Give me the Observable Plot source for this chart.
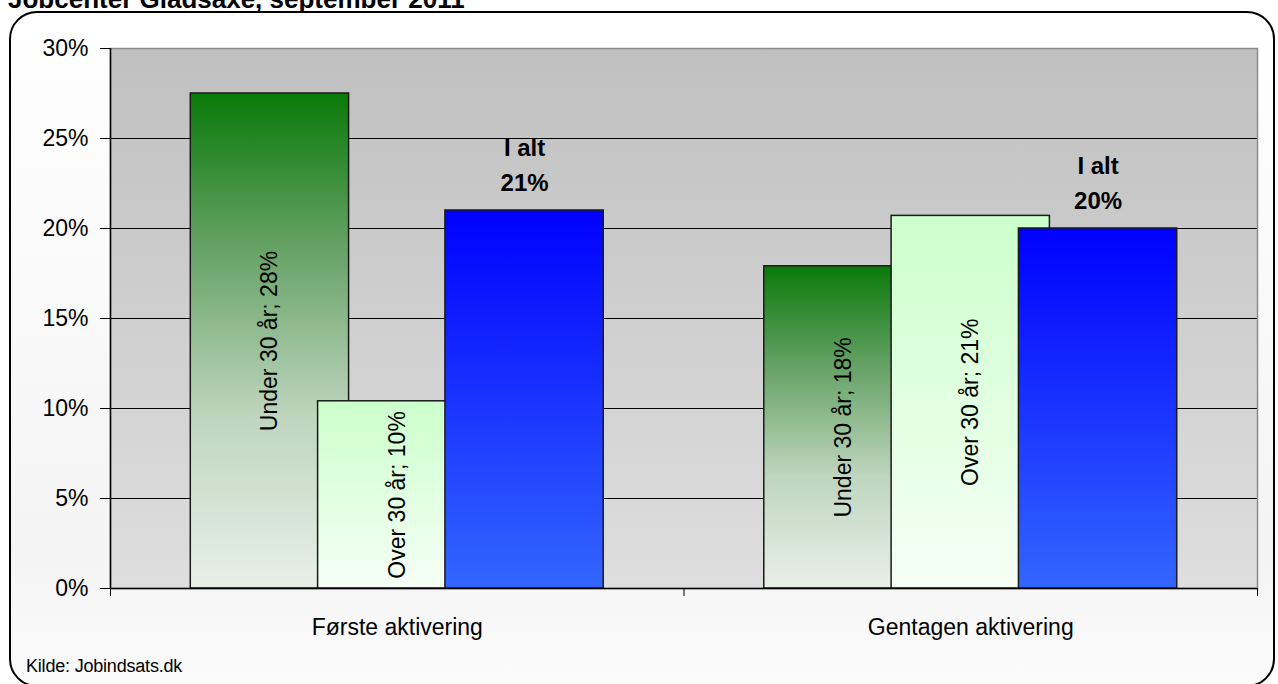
<!DOCTYPE html>
<html><head><meta charset="utf-8">
<script src="https://cdn.jsdelivr.net/npm/d3@7"></script>
<script src="https://cdn.jsdelivr.net/npm/@observablehq/plot@0.6"></script>
<style>
body{margin:0;background:#fff;}
#wrap{position:relative;width:1278px;height:684px;overflow:hidden;font-family:"Liberation Sans",Arial,sans-serif;}
#panel{position:absolute;left:9px;top:11px;width:1262px;height:672px;border:2px solid #000;border-radius:28px;background:linear-gradient(#ffffff 0%,#f4f4f4 80%,#fbfbfb 100%);}
#title{position:absolute;left:8px;top:-14px;font-weight:bold;font-size:26px;line-height:26px;white-space:nowrap;color:#000;}
#caption{position:absolute;left:26px;top:657px;font-size:18px;line-height:18px;letter-spacing:-0.2px;white-space:nowrap;color:#000;}
#chart{position:absolute;left:0;top:0;}
</style></head>
<body>
<div id="wrap">
  <div id="panel"></div>
  <div id="title">Jobcenter Gladsaxe, september 2011</div>
  <div id="chart"></div>
  <div id="caption">Kilde: Jobindsats.dk</div>
</div>
<script>
const categories = ["Første aktivering", "Gentagen aktivering"];
const series = ["Under 30 år", "Over 30 år", "I alt"];
const under30 = [27.5, 17.9];
const over30 = [10.4, 20.7];
const total = [21.0, 20.0];
const yTicks = [0, 5, 10, 15, 20, 25, 30];

const valuesBySeries = [under30, over30, total];
const rows = [];
series.forEach((s, k) => categories.forEach((c, i) => rows.push({cat: c, ci: i, series: s, k, value: valuesBySeries[k][i]})));

const barW = 0.276, step = 0.222;
const center = d => d.ci + 0.5 + (d.k - 1) * step;
const fillIds = ["gUnder", "gOver", "gTotal"];

const marks = [
  Plot.frame({fill: "url(#gBg)", stroke: "#8c8c8c", strokeWidth: 1.5}),
  Plot.ruleY(yTicks.filter(t => t > 0 && t < 30), {stroke: "#000", strokeWidth: 1})
];
series.forEach((s, k) => {
  marks.push(Plot.rectY(rows.filter(d => d.k === k), {
    x1: d => center(d) - barW / 2, x2: d => center(d) + barW / 2,
    y1: 0, y2: "value", fill: `url(#${fillIds[k]})`, stroke: "#1a1a1a", strokeWidth: 1.5
  }));
});
marks.push(
  Plot.ruleX([0], {stroke: "#000", strokeWidth: 1.5}),
  Plot.ruleY([0], {stroke: "#000", strokeWidth: 1.5}),
  Plot.axisY({ticks: yTicks, tickFormat: d => d + "%", tickSize: 10, tickPadding: 12, fontSize: 23, label: null}),
  Plot.axisX({ticks: [0, 1, 2], tickFormat: () => "", tickSize: 8, label: null}),
  Plot.axisX({ticks: [0.5, 1.5], tickFormat: d => categories[Math.floor(d)], tickSize: 0, tickPadding: 30, fontSize: 23, label: null}),
  Plot.text(rows.filter(d => d.k < 2), {
    x: center, y: d => d.value / 2, text: d => `${d.series}; ${Math.round(d.value)}%`,
    rotate: -90, fontSize: 23, fill: "#000"
  }),
  Plot.text(rows.filter(d => d.k === 2), {
    x: center, y: "value", text: d => `${d.series}\n${Math.round(d.value)}%`,
    lineAnchor: "bottom", lineHeight: 1.45, dy: -20, fontSize: 24, fontWeight: "bold", fill: "#000"
  })
);

const svg = Plot.plot({
  width: 1278, height: 684,
  marginTop: 48, marginBottom: 96, marginLeft: 110, marginRight: 21,
  x: {type: "linear", domain: [0, 2], axis: null},
  y: {domain: [0, 30], axis: null},
  style: {fontFamily: "'Liberation Sans', Arial, sans-serif", background: "transparent", color: "#000", overflow: "visible"},
  marks
});

const defs = d3.select(svg).insert("defs", ":first-child");
function grad(id, stops) {
  const g = defs.append("linearGradient").attr("id", id).attr("x1", 0).attr("y1", 0).attr("x2", 0).attr("y2", 1);
  stops.forEach(([o, c]) => g.append("stop").attr("offset", o).attr("stop-color", c));
}
grad("gBg", [[0, "#c0c0c0"], [1, "#dedede"]]);
grad("gUnder", [[0, "#0a7a0a"], [0.3, "#62a062"], [0.65, "#bed5be"], [1, "#e8f0e8"]]);
grad("gOver", [[0, "#ccffcc"], [1, "#f6fff6"]]);
grad("gTotal", [[0, "#0000ff"], [1, "#3366ff"]]);

document.getElementById("chart").appendChild(svg);
</script>
</body></html>
